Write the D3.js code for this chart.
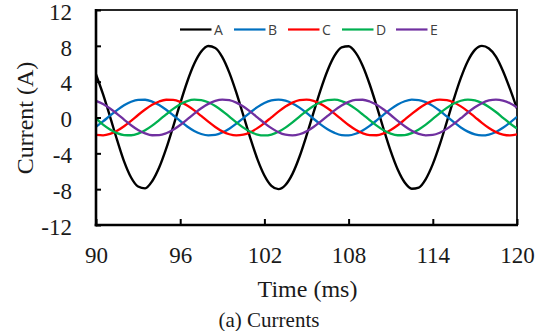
<!DOCTYPE html>
<html>
<head>
<meta charset="utf-8">
<script src="https://cdn.jsdelivr.net/npm/d3@7"></script>
<style>
  html, body { margin: 0; padding: 0; background: #fff; }
  svg { display: block; }
</style>
</head>
<body>
<svg id="chart" width="538" height="331"></svg>
<script>
// Time samples (ms)
const time = [90,90.5,91,91.5,92,92.5,93,93.5,94,94.5,95,95.5,96,96.5,97,97.5,98,98.5,99,99.5,
  100,100.5,101,101.5,102,102.5,103,103.5,104,104.5,105,105.5,106,106.5,107,107.5,108,108.5,109,109.5,
  110,110.5,111,111.5,112,112.5,113,113.5,114,114.5,115,115.5,116,116.5,117,117.5,118,118.5,119,119.5,120];

const seriesA = [4.8,2.6,0.1,-2.5,-4.9,-6.7,-7.7,-7.91,-7.12,-5.59,-3.48,-1.01,1.57,3.99,5.99,7.36,7.98,7.76,6.74,5.01,
  2.77,0.23,-2.32,-4.64,-6.47,-7.63,-8.0,-7.53,-6.29,-4.38,-2.02,0.54,3.06,5.25,6.9,7.83,7.95,7.24,5.78,3.71,
  1.27,-1.31,-3.76,-5.81,-7.26,-7.95,-7.82,-6.87,-5.21,-3.01,-0.49,2.07,4.42,6.31,7.55,8.0,7.7,6.8,5.2,3.2,1.0];

const seriesB = [-1.04,-0.44,0.2,0.82,1.36,1.76,1.97,1.98,1.78,1.4,0.87,0.25,-0.39,-1.0,-1.5,-1.84,-1.99,-1.94,-1.68,-1.25,
  -0.69,-0.06,0.58,1.16,1.62,1.91,2.0,1.88,1.57,1.1,0.51,-0.14,-0.76,-1.31,-1.72,-1.96,-1.99,-1.81,-1.44,-0.93,
  -0.32,0.33,0.94,1.45,1.81,1.99,1.95,1.72,1.3,0.75,0.12,-0.52,-1.11,-1.58,-1.89,-2.0,-1.9,-1.61,-1.15,-0.57,0.07];

const seriesC = [-1.95,-1.99,-1.83,-1.48,-0.97,-0.37,0.28,0.89,1.42,1.79,1.98,1.96,1.74,1.34,0.8,0.17,-0.47,-1.06,-1.55,-1.87,
  -2.0,-1.92,-1.64,-1.19,-0.62,0.02,0.65,1.22,1.66,1.93,2.0,1.86,1.52,1.03,0.43,-0.21,-0.84,-1.37,-1.76,-1.97,
  -1.98,-1.77,-1.39,-0.86,-0.24,0.4,1.01,1.5,1.85,2.0,1.94,1.68,1.24,0.68,0.05,-0.59,-1.17,-1.63,-1.91,-2.0,-1.88];

const seriesD = [-0.1,-0.79,-1.33,-1.74,-1.96,-1.98,-1.8,-1.42,-0.9,-0.29,0.35,0.96,1.47,1.83,1.99,1.95,1.7,1.28,0.73,0.1,
  -0.54,-1.13,-1.6,-1.9,-2.0,-1.9,-1.6,-1.13,-0.54,0.1,0.73,1.28,1.7,1.95,1.99,1.83,1.47,0.96,0.35,-0.29,
  -0.9,-1.43,-1.8,-1.98,-1.96,-1.74,-1.33,-0.79,-0.16,0.48,1.07,1.56,1.87,2.0,1.92,1.63,1.18,0.61,-0.03,-0.67,-1.23];

const seriesE = [1.85,1.5,1.01,0.41,-0.24,-0.86,-1.39,-1.77,-1.98,-1.97,-1.76,-1.37,-0.84,-0.21,0.43,1.03,1.52,1.86,2.0,1.93,
  1.66,1.22,0.65,0.02,-0.62,-1.19,-1.64,-1.92,-2.0,-1.87,-1.55,-1.06,-0.47,0.17,0.8,1.34,1.74,1.96,1.98,1.79,
  1.42,0.89,0.28,-0.37,-0.97,-1.48,-1.83,-1.99,-1.95,-1.7,-1.27,-0.72,-0.08,0.56,1.14,1.6,1.9,2.0,1.89,1.59,1.12];

const seriesNames = ["A","B","C","D","E"];
const seriesColors = ["#000000","#0070C0","#FF0000","#00B050","#7030A0"];
const xTicks = [90,96,102,108,114,120];
const yTicks = [-12,-8,-4,0,4,8,12];

const allSeries = [seriesA, seriesB, seriesC, seriesD, seriesE];

const svg = d3.select("#chart");
const L = 96, R = 517, T = 10, B = 225;

const x = d3.scaleLinear().domain([90,120]).range([L,R]);
const y = d3.scaleLinear().domain([-12,12]).range([B,T]);

svg.append("defs").append("clipPath").attr("id","clip")
  .append("rect").attr("x",L).attr("y",T).attr("width",R-L).attr("height",B-T);

// frame (top & right)
svg.append("rect").attr("x",L).attr("y",T).attr("width",R-L).attr("height",B-T)
  .attr("fill","none").attr("stroke","#262626").attr("stroke-width",2);

// series lines
const line = d3.line().curve(d3.curveMonotoneX);
const gLines = svg.append("g").attr("clip-path","url(#clip)");
allSeries.forEach((s,i) => {
  const pts = time.map((t,j) => [x(t), y(s[j])]);
  gLines.append("path").attr("d", line(pts))
    .attr("fill","none").attr("stroke", seriesColors[i])
    .attr("stroke-width", i === 0 ? 2.4 : 2.3)
    .attr("stroke-linejoin","round");
});

const serif = "'Liberation Serif', 'Times New Roman', serif";
const fmt = d => String(d);

// axes
const yAxis = d3.axisLeft(y).tickValues(yTicks).tickFormat(fmt).tickSizeInner(-5).tickSizeOuter(0).tickPadding(24);
const gy = svg.append("g").attr("transform",`translate(${L},0)`).call(yAxis);
gy.select(".domain").remove();
gy.selectAll(".tick line").attr("stroke","#000").attr("stroke-width",2);
gy.selectAll(".tick text").attr("font-family",serif)
  .attr("font-size",23).attr("fill","#1a1a1a").attr("dy","0.4em");

const xAxis = d3.axisBottom(x).tickValues(xTicks).tickFormat(fmt).tickSizeInner(-6).tickSizeOuter(0).tickPadding(22);
const gx = svg.append("g").attr("transform",`translate(0,${B})`).call(xAxis);
gx.select(".domain").remove();
gx.selectAll(".tick line").attr("stroke","#000").attr("stroke-width",2);
gx.selectAll(".tick text").attr("font-family",serif)
  .attr("font-size",23).attr("fill","#1a1a1a");

// axis lines (left, bottom thicker)
svg.append("line").attr("x1",L).attr("x2",L).attr("y1",T-1).attr("y2",B+1.3)
  .attr("stroke","#000").attr("stroke-width",2.6);
svg.append("line").attr("x1",L-1.3).attr("x2",R+1).attr("y1",B).attr("y2",B)
  .attr("stroke","#000").attr("stroke-width",2.6);

// legend
const leg = svg.append("g");
seriesNames.forEach((n,i) => {
  const lx = 180 + i*54;
  leg.append("line").attr("x1",lx).attr("x2",lx+31.5).attr("y1",29.5).attr("y2",29.5)
    .attr("stroke",seriesColors[i]).attr("stroke-width",2.2);
  leg.append("text").attr("x",lx+34).attr("y",34.5).text(n)
    .attr("font-family","'Open Sans', 'Liberation Sans', sans-serif").attr("font-size",14)
    .attr("fill","#404040");
});

// titles
svg.append("text").attr("transform","translate(33,118) rotate(-90)").attr("text-anchor","middle")
  .attr("font-family",serif).attr("font-size",24)
  .attr("fill","#1a1a1a").text("Current (A)");
svg.append("text").attr("x",307.5).attr("y",296.5).attr("text-anchor","middle")
  .attr("font-family",serif).attr("font-size",24)
  .attr("fill","#1a1a1a").text("Time (ms)");
svg.append("text").attr("x",269).attr("y",327).attr("text-anchor","middle")
  .attr("font-family",serif).attr("font-size",21)
  .attr("fill","#1a1a1a").text("(a) Currents");
</script>
</body>
</html>
